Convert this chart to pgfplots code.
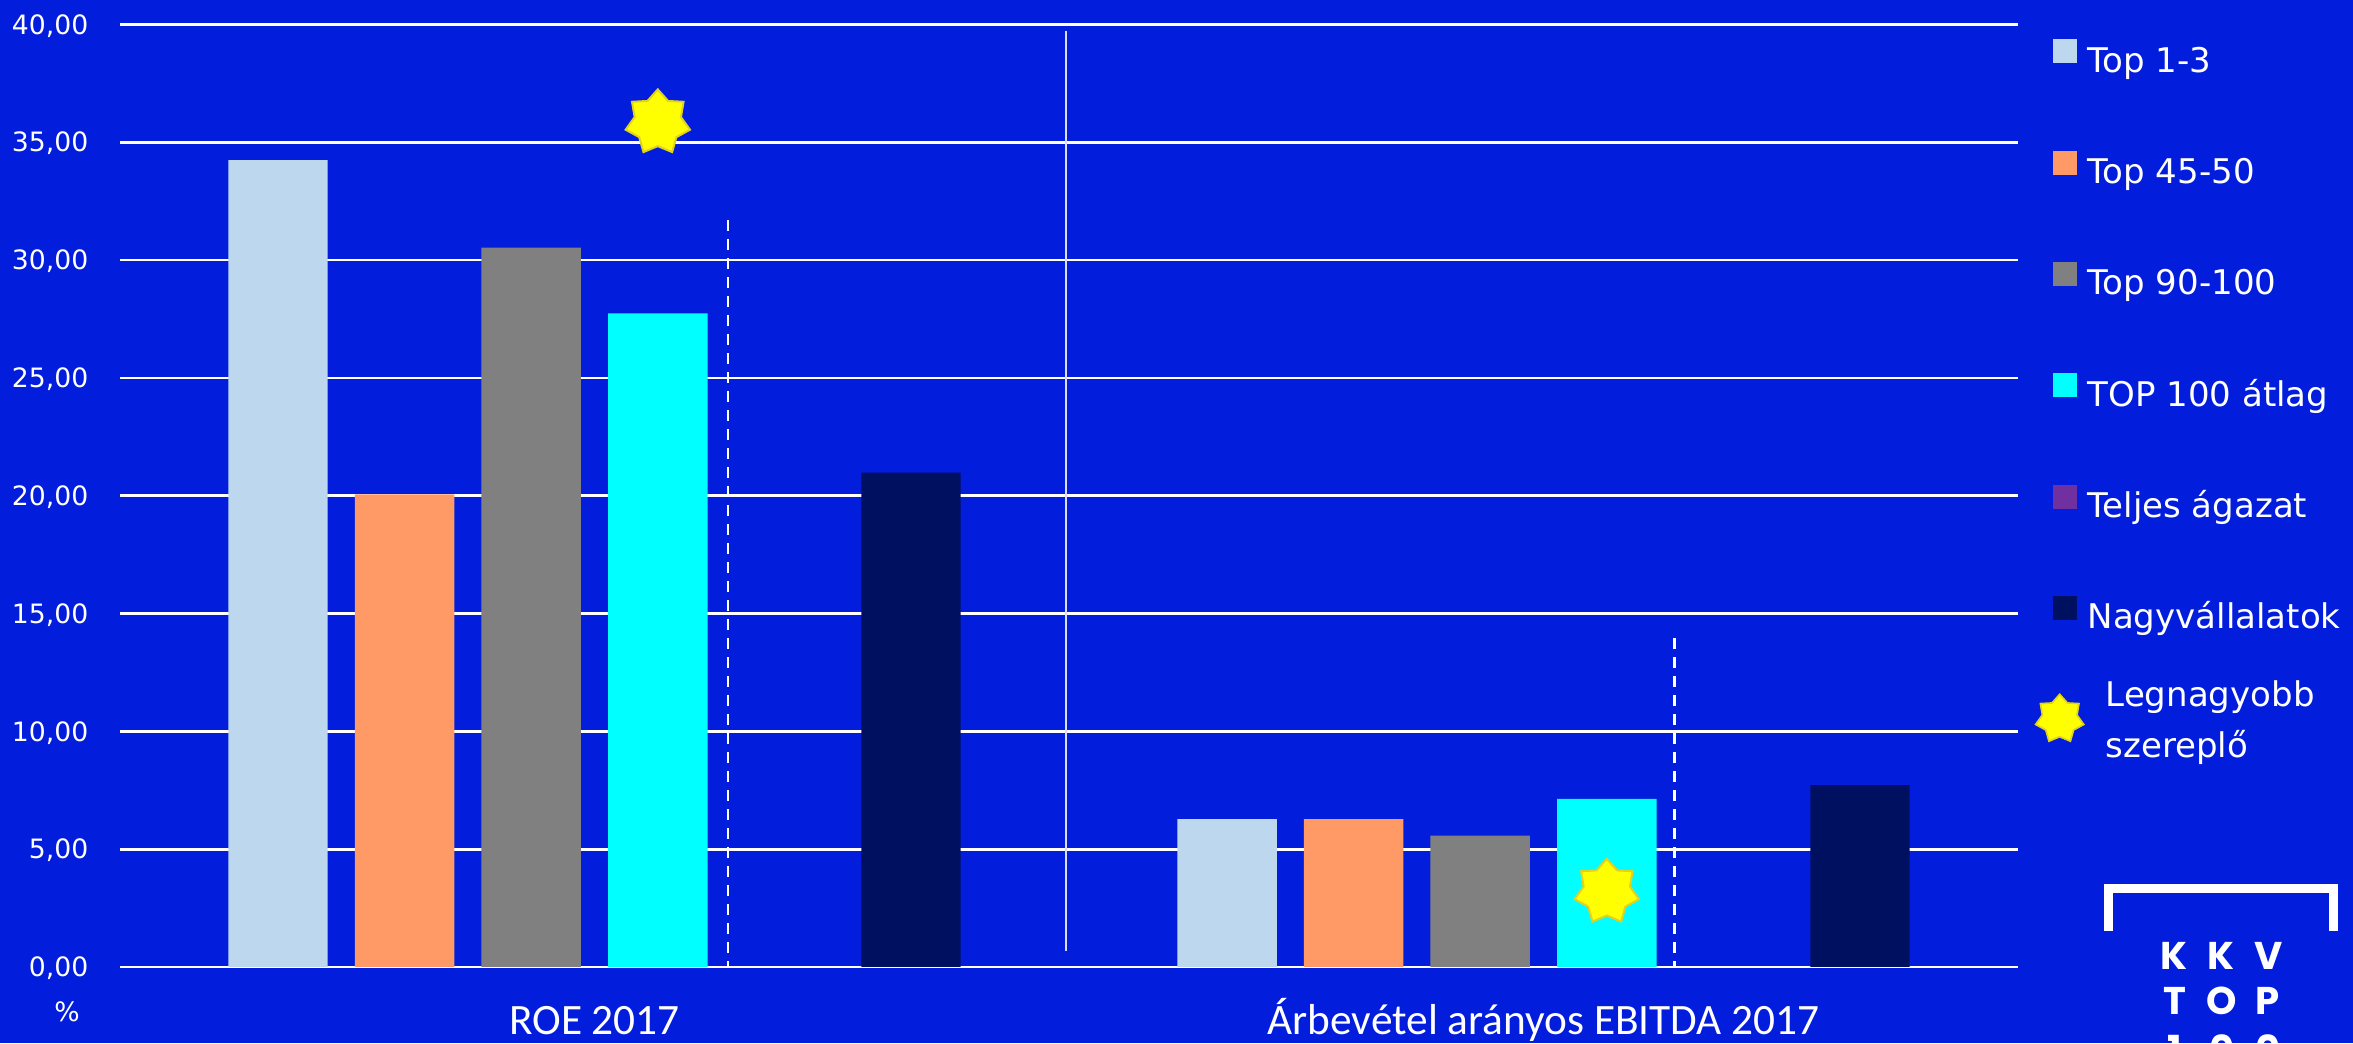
\documentclass[border=0pt]{standalone}
\usepackage{fontspec}
\setmainfont{DejaVu Sans}
\newfontfamily\carlito{Carlito}
\newfontfamily\poppins{Poppins}
\usepackage{pgfplots}
\pgfplotsset{compat=1.18}

\definecolor{bg}{RGB}{2,29,220}
\definecolor{ctop}{RGB}{189,215,238}
\definecolor{corange}{RGB}{255,153,102}
\definecolor{cgrey}{RGB}{128,128,128}
\definecolor{ccyan}{RGB}{0,255,255}
\definecolor{cpurple}{RGB}{112,48,160}
\definecolor{cnavy}{RGB}{0,16,96}
\definecolor{starfill}{RGB}{255,255,0}
\definecolor{starline}{RGB}{225,210,30}

% seven pointed star mark
\pgfdeclareplotmark{sevenstar}{%
  \pgfpathmoveto{\pgfpointpolar{90}{\pgfplotmarksize}}%
  \pgfpathlineto{\pgfpointpolar{115.714}{0.72\pgfplotmarksize}}%
  \pgfpathlineto{\pgfpointpolar{141.429}{\pgfplotmarksize}}%
  \pgfpathlineto{\pgfpointpolar{167.143}{0.72\pgfplotmarksize}}%
  \pgfpathlineto{\pgfpointpolar{192.857}{\pgfplotmarksize}}%
  \pgfpathlineto{\pgfpointpolar{218.571}{0.72\pgfplotmarksize}}%
  \pgfpathlineto{\pgfpointpolar{244.286}{\pgfplotmarksize}}%
  \pgfpathlineto{\pgfpointpolar{270}{0.72\pgfplotmarksize}}%
  \pgfpathlineto{\pgfpointpolar{295.714}{\pgfplotmarksize}}%
  \pgfpathlineto{\pgfpointpolar{321.429}{0.72\pgfplotmarksize}}%
  \pgfpathlineto{\pgfpointpolar{347.143}{\pgfplotmarksize}}%
  \pgfpathlineto{\pgfpointpolar{372.857}{0.72\pgfplotmarksize}}%
  \pgfpathlineto{\pgfpointpolar{398.571}{\pgfplotmarksize}}%
  \pgfpathlineto{\pgfpointpolar{424.286}{0.72\pgfplotmarksize}}%
  \pgfpathclose
  \pgfusepathqfillstroke
}

\pgfplotsset{
  sqlegend/.style={legend image code/.code={\fill[##1,draw=none] (0pt,0.1pt) rectangle (7.2pt,7.3pt);}},
  starlegend/.style={legend image code/.code={\draw[##1,overlay] plot coordinates {(2.1pt,1.5pt)};}},
  barstyle/.style={ybar, bar width=0.1048, draw=none, forget plot},
}

\begin{document}
\begin{tikzpicture}
\fill[bg] (-36pt,-22.8pt) rectangle (669.9pt,290.1pt);
\useasboundingbox (-36pt,-22.8pt) rectangle (669.9pt,290.1pt);
\begin{axis}[
  at={(0pt,0pt)}, anchor=south west,
  scale only axis, width=569.4pt, height=282.8pt,
  xmin=-0.5, xmax=1.5, ymin=0, ymax=40,
  axis line style={draw=none},
  major tick length=0pt,
  xtick={0,1},
  xticklabels={ROE 2017, Árbevétel arányos EBITDA 2017},
  ytick={0,5,...,40},
  ymajorgrids,
  major grid style={white, line width=0.8pt},
  xticklabel style={font=\carlito\fontsize{13}{15}\selectfont, text=white, anchor=base, inner sep=0pt, yshift=-20.1pt},
  yticklabel style={font=\fontsize{8}{9.6}\selectfont, text=white, anchor=base east, inner sep=0pt, xshift=-9.3pt, yshift=-2.9pt,
    /pgf/number format/.cd, fixed, fixed zerofill, precision=2, use comma, assume math mode=true},
  legend cell align=left,
  legend style={at={(axis description cs:1.01792,0.98484)}, anchor=north west,
    draw=none, fill=none, inner sep=0pt, text=white,
    font=\fontsize{10.2}{12.2}\selectfont,
    row sep=21.1pt, column sep=3.3pt,
    nodes={inner sep=0pt, text height=7.6pt, text depth=2.4pt}},
]
% bars: ROE 2017 at x=0, EBITDA at x=1
\addplot[barstyle, bar shift=-0.3335, fill=ctop] coordinates {(0,34.24) (1,6.28)};
\addplot[barstyle, bar shift=-0.2001, fill=corange] coordinates {(0,20.05) (1,6.28)};
\addplot[barstyle, bar shift=-0.0667, fill=cgrey] coordinates {(0,30.53) (1,5.57)};
\addplot[barstyle, bar shift=0.0667, fill=ccyan] coordinates {(0,27.73) (1,7.13)};
\addplot[barstyle, bar shift=0.3335, fill=cnavy] coordinates {(0,20.98) (1,7.72)};

% separator and dashed markers
\addplot[white!85!bg, line width=0.6pt, forget plot] coordinates {(0.497,0.69) (0.497,39.71)};
\addplot[white, line width=0.8pt, dash pattern=on 3.3pt off 2.4pt, forget plot] coordinates {(0.1405,31.7) (0.1405,0)};
\addplot[white, line width=0.8pt, dash pattern=on 3.3pt off 2.4pt, forget plot] coordinates {(1.138,13.96) (1.138,0)};

% largest player
\addplot[only marks, mark=sevenstar, mark size=9.9pt, mark options={fill=starfill, draw=starline, line width=0.6pt}, forget plot]
  coordinates {(0.0667,35.84) (1.0667,3.19)};

\addlegendimage{sqlegend, fill=ctop}
\addlegendentry{Top 1-3}
\addlegendimage{sqlegend, fill=corange}
\addlegendentry{Top 45-50}
\addlegendimage{sqlegend, fill=cgrey}
\addlegendentry{Top 90-100}
\addlegendimage{sqlegend, fill=ccyan}
\addlegendentry{TOP 100 átlag}
\addlegendimage{sqlegend, fill=cpurple}
\addlegendentry{Teljes ágazat}
\addlegendimage{sqlegend, fill=cnavy}
\addlegendentry{Nagyvállalatok}
\addlegendimage{starlegend, only marks, mark=sevenstar, mark size=7.4pt, mark options={fill=starfill, draw=starline, line width=0.5pt}}
\addlegendentry{\raisebox{0pt}{\begin{tabular}{@{\hspace{5.4pt}}l@{}}Legnagyobb\\[3.1pt]szereplő\end{tabular}}}
\end{axis}

\node[text=white, font=\fontsize{8}{9.6}\selectfont] at (-15.9pt,-13.5pt) {\%};

% logo
\draw[white, line width=2.7pt] (596.55pt,10.8pt) -- (596.55pt,23.55pt) -- (664.05pt,23.55pt) -- (664.05pt,10.8pt);
\begin{scope}[every node/.style={text=white, font=\poppins\bfseries\fontsize{11.6}{13}\selectfont, anchor=base, inner sep=0pt}]
\node at (616.2pt,-0.6pt) {K};
\node at (630.2pt,-0.6pt) {K};
\node at (644.7pt,-0.6pt) {V};
\node at (616.35pt,-14.25pt) {T};
\node at (630.5pt,-14.25pt) {O};
\node at (644.4pt,-14.25pt) {P};
\node at (616.35pt,-28.8pt) {1};
\node at (630.5pt,-28.8pt) {0};
\node at (644.4pt,-28.8pt) {0};
\end{scope}
\end{tikzpicture}
\end{document}
